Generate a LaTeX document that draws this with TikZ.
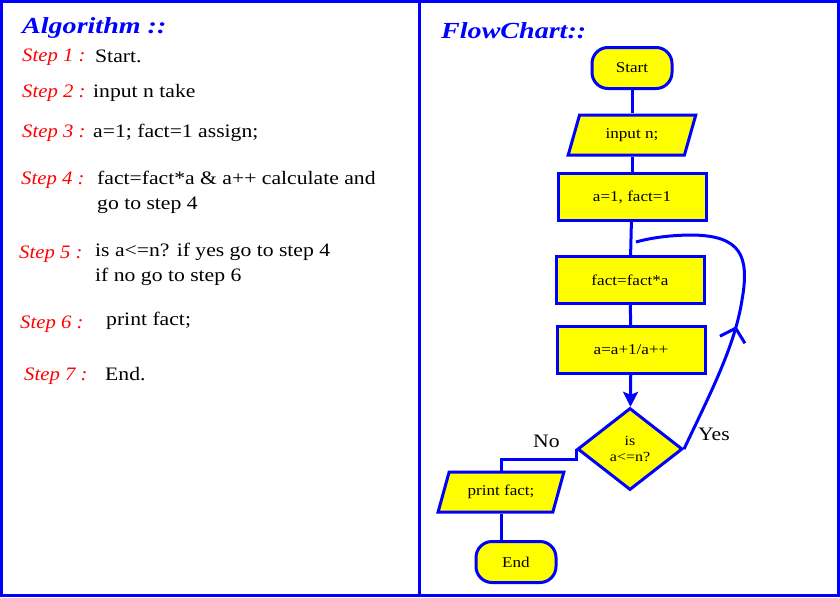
\documentclass[tikz,border=0pt]{standalone}
\usepackage{fontspec}
\setmainfont[FakeStretch=1.14]{Liberation Serif}
\newfontfamily\stepfont[FakeStretch=1.09]{Liberation Serif}
\newfontfamily\headfont[FakeStretch=1.22]{Liberation Serif}
\usetikzlibrary{shapes.geometric}
\usetikzlibrary{arrows.meta}
\usetikzlibrary{decorations.markings}
\definecolor{frameblue}{RGB}{0,0,255}
\definecolor{boxyellow}{RGB}{255,255,0}
\definecolor{stepred}{RGB}{255,0,0}

\tikzset{
  steplabel/.style={anchor=base west, inner sep=0, text=stepred, font=\fontsize{19}{22}\stepfont\itshape},
  steptext/.style={anchor=base west, inner sep=0, font=\fontsize{19}{22}\selectfont},
  heading/.style={anchor=base west, inner sep=0, text=frameblue, font=\fontsize{23}{26}\headfont\bfseries\itshape},
  flowbox/.style={draw=frameblue, line width=3pt, fill=boxyellow, font=\fontsize{15}{17}\selectfont},
  terminal/.style={flowbox, rounded corners=16pt, minimum width=80pt, minimum height=41pt},
  process/.style={flowbox, minimum width=148pt, minimum height=47pt},
  iobox/.style={flowbox, trapezium, trapezium left angle=72, trapezium right angle=108,
    trapezium stretches=true, minimum width=128pt, minimum height=40pt},
  decision/.style={flowbox, diamond, minimum width=105pt, minimum height=82pt, inner sep=0,
    align=center, font=\fontsize{14}{16}\selectfont},
  link/.style={draw=frameblue, line width=3pt},
  answer/.style={anchor=base west, inner sep=0, font=\fontsize{19}{22}\selectfont}
}

\begin{document}
\begin{tikzpicture}[x=1pt, y=-1pt]
\useasboundingbox (0,0) rectangle (840,597);

% frame
\draw[frameblue, line width=3pt] (1.5,1.5) rectangle (838.5,595.5);
\draw[frameblue, line width=3pt] (419,0) -- (419,597);

% algorithm
\node[heading] (algo) at (22,33) {Algorithm ::};

\node[steplabel] (sone) at (22,61) {Step 1 :};
\node[steptext] (tone) at (95,62) {Start.};
\node[steplabel] (stwo) at (22,97) {Step 2 :};
\node[steptext] (ttwo) at (93,97) {input n take};
\node[steplabel] (sthree) at (22,137) {Step 3 :};
\node[steptext] (tthree) at (93,137) {a=1; fact=1 assign;};
\node[steplabel] (sfour) at (21,184) {Step 4 :};
\node[steptext] (tfour) at (97,184) {fact=fact*a \& a++ calculate and};
\node[steptext] (tfourb) at (97,209) {go to step 4};
\node[steplabel] (sfive) at (19,258) {Step 5 :};
\node[steptext] (tfive) at (95,256) {is a<=n? if yes go to step 4};
\node[steptext] (tfiveb) at (95,281) {if no go to step 6};
\node[steplabel] (ssix) at (20,328) {Step 6 :};
\node[steptext] (tsix) at (106,325) {print fact;};
\node[steplabel] (sseven) at (24,380) {Step 7 :};
\node[steptext] (tseven) at (105,380) {End.};

% flowchart
\node[heading] (flow) at (441,38) {FlowChart::};

\node[terminal] (start) at (632,68) {Start};
\node[iobox] (input) at (632,135) {input n;};
\node[process] (init) at (632,197) {a=1, fact=1};
\node[process] (mult) at (630,280) {fact=fact*a};
\node[process] (incr) at (631,350) {a=a+1/a++};
\node[decision] (test) at (630,449) {is\\a<=n?};
\node[iobox, trapezium left angle=69, trapezium right angle=111, minimum width=127pt] (print) at (501,492) {print fact;};
\node[terminal] (stop) at (516,562) {End};

\draw[link] (start) -- (input);
\draw[link] (input) -- (init);
\draw[link] (init) -- (mult);
\draw[link] (mult) -- (incr);
\draw[link, -{Stealth[length=15pt, width=15pt, inset=3pt]}] (incr) -- (test);
\draw[link] (test.west) -- ++(0,10) -| (print.north);
\draw[link] (print.south) -- (print.south |- stop.north);

\coordinate (loopend) at (636,242);
\draw[link, postaction={decorate}, decoration={markings,
    mark=at position 0.42 with {\arrow{Straight Barb[length=12pt, width=26pt]}}}]
  (test.east) .. controls (712,390) and (735,345) .. (742,300)
  .. controls (750,255) and (740,236) .. (693,235)
  .. controls (670,235) and (650,238) .. (loopend);

\node[answer] (no) at (533,447) {No};
\node[answer] (yes) at (698,440) {Yes};
\end{tikzpicture}
\end{document}
